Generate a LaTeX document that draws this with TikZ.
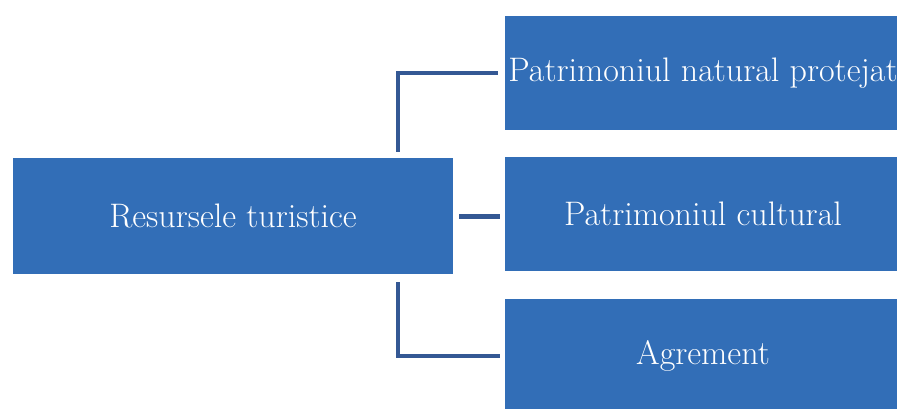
\documentclass[tikz,border=0pt]{standalone}
\usepackage{tikz}

\definecolor{boxblue}{RGB}{50,110,183}
\definecolor{linkblue}{RGB}{52,88,148}

\tikzset{
    resbox/.style={fill=boxblue,text=white,inner sep=0pt,
        font=\fontsize{34}{40}\selectfont},
    link/.style={draw=linkblue,line width=4pt}
}

\begin{document}
\begin{tikzpicture}[x=1pt,y=1pt]
        \clip (0,0) rectangle (897,408);
        \useasboundingbox (0,0) rectangle (897,408);

        \node[resbox,minimum width=440pt,minimum height=116pt] (res) at (233,192) {Resursele turistice};

        \node[resbox,minimum width=396pt,minimum height=113pt] (nat) at (703,335) {Patrimoniul natural protejat};
        \node[resbox,minimum width=396pt,minimum height=114pt] (cult) at (703,194) {Patrimoniul cultural};
        \node[resbox,minimum width=396pt,minimum height=114pt] (agr) at (703,52) {Agrement};

        \draw[link] ([xshift=165pt,yshift=6pt]res.north) |- ([xshift=-7pt]nat.west);
        \draw[link,line width=5pt] ([xshift=6pt]res.east) -- ([xshift=-5pt]res.east -| cult.west);
        \draw[link] ([xshift=165pt,yshift=-8pt]res.south) |- ([xshift=-5pt]agr.west);
    \end{tikzpicture}
\end{document}
